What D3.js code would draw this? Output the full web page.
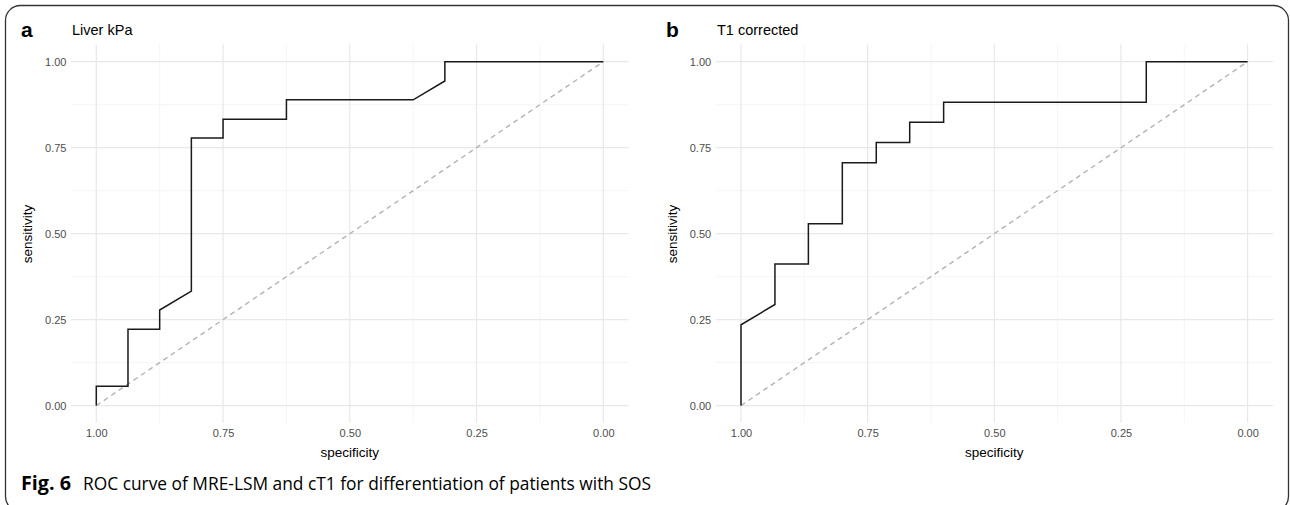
<!DOCTYPE html>
<html>
<head>
<meta charset="utf-8">
<script src="https://cdn.jsdelivr.net/npm/d3@7"></script>
<style>
body{margin:0;background:#fff;}
svg{display:block;}
</style>
</head>
<body>
<svg id="chart" width="1290" height="505"></svg>
<script>
// ROC points (specificity, sensitivity)
var specA = [1, 1, 0.9375, 0.9375, 0.875, 0.875, 0.8125, 0.8125, 0.75, 0.75, 0.625, 0.625, 0.375, 0.3125, 0.3125, 0]
var sensA = [0, 0.056, 0.056, 0.222, 0.222, 0.278, 0.333, 0.778, 0.778, 0.833, 0.833, 0.889, 0.889, 0.944, 1, 1]

var specB = [1, 1, 0.933, 0.933, 0.867, 0.867, 0.8, 0.8, 0.733, 0.733, 0.667, 0.667, 0.6, 0.6, 0.2, 0.2, 0]
var sensB = [0, 0.235, 0.294, 0.412, 0.412, 0.529, 0.529, 0.706, 0.706, 0.765, 0.765, 0.824, 0.824, 0.882, 0.882, 1, 1]

var tickVals = [1, 0.75, 0.5, 0.25, 0]
var minorVals = [0.875, 0.625, 0.375, 0.125]
var panelLetters = ["a", "b"]
var panelTitles = ["Liver kPa", "T1 corrected"]
var xLabel = "specificity"
var yLabel = "sensitivity"
var captionBold = "Fig. 6"
var captionText = "ROC curve of MRE-LSM and cT1 for differentiation of patients with SOS"

var svg = d3.select("#chart")
var font = "'Liberation Sans', Arial, sans-serif"

// figure frame (rounded, cut by the bottom edge)
svg.append("rect")
    .attr("x", 5.5).attr("y", 5.5)
    .attr("width", 1283).attr("height", 506)
    .attr("rx", 15).attr("ry", 15)
    .style("fill", "none")
    .style("stroke", "#333")
    .style("stroke-width", 1.3)

var panels = [
    {x0: 96.3, x1: 603.3, spec: specA, sens: sensA, letterX: 21, titleX: 72, ylabX: 27},
    {x0: 741, x1: 1247.6, spec: specB, sens: sensB, letterX: 666, titleX: 717, ylabX: 672}
]

panels.forEach(function(p, i){
    var pad = 0.05 * (p.x1 - p.x0)
    var x = d3.scaleLinear().domain([1, 0]).range([p.x0, p.x1])
    var y = d3.scaleLinear().domain([0, 1]).range([405.6, 61.7])
    var ypad = 0.05 * (405.6 - 61.7)
    var left = p.x0 - pad, right = p.x1 + pad
    var top = 61.7 - ypad, bottom = 405.6 + ypad

    var g = svg.append("g")

    // minor grid
    g.selectAll("line.minx").data(minorVals).enter().append("line")
        .attr("x1", d => x(d)).attr("x2", d => x(d))
        .attr("y1", top).attr("y2", bottom)
        .style("stroke", "#f0f0f0").style("stroke-width", 0.7)
    g.selectAll("line.miny").data(minorVals).enter().append("line")
        .attr("y1", d => y(d)).attr("y2", d => y(d))
        .attr("x1", left).attr("x2", right)
        .style("stroke", "#f0f0f0").style("stroke-width", 0.7)
    // major grid
    g.selectAll("line.majx").data(tickVals).enter().append("line")
        .attr("x1", d => x(d)).attr("x2", d => x(d))
        .attr("y1", top).attr("y2", bottom)
        .style("stroke", "#e8e8e8").style("stroke-width", 1.2)
    g.selectAll("line.majy").data(tickVals).enter().append("line")
        .attr("y1", d => y(d)).attr("y2", d => y(d))
        .attr("x1", left).attr("x2", right)
        .style("stroke", "#e8e8e8").style("stroke-width", 1.2)

    // axes (labels only, ggplot minimal style)
    var xAxis = d3.axisBottom(x).tickValues(tickVals).tickFormat(d3.format(".2f")).tickSize(0).tickPadding(0)
    var yAxis = d3.axisLeft(y).tickValues(tickVals).tickFormat(d3.format(".2f")).tickSize(0).tickPadding(0)

    var xa = g.append("g").attr("transform", "translate(0," + (bottom + 6) + ")").call(xAxis)
    var ya = g.append("g").attr("transform", "translate(" + (left - 4.5) + ",0)").call(yAxis)
    ;[xa, ya].forEach(function(a){
        a.select(".domain").remove()
        a.attr("font-family", null).attr("font-size", null)
        a.selectAll("text")
            .style("font-family", font)
            .style("font-size", "11px")
            .style("fill", "#4d4d4d")
    })

    // chance diagonal
    g.append("line")
        .attr("x1", x(1)).attr("y1", y(0))
        .attr("x2", x(0)).attr("y2", y(1))
        .style("stroke", "#b3b3b3")
        .style("stroke-width", 1.4)
        .style("stroke-dasharray", "5,4")

    // ROC curve
    var pts = p.spec.map(function(s, k){ return [s, p.sens[k]] })
    var line = d3.line().x(d => x(d[0])).y(d => y(d[1]))
    g.append("path")
        .datum(pts)
        .attr("d", line)
        .style("fill", "none")
        .style("stroke", "#1a1a1a")
        .style("stroke-width", 1.5)

    // labels
    g.append("text")
        .attr("x", (p.x0 + p.x1) / 2).attr("y", 457)
        .style("text-anchor", "middle")
        .style("font-family", font).style("font-size", "13.5px").style("fill", "#000")
        .text(xLabel)
    g.append("text")
        .attr("transform", "translate(" + p.ylabX + ",234) rotate(-90)")
        .attr("dy", "0.35em")
        .style("text-anchor", "middle")
        .style("font-family", font).style("font-size", "13.5px").style("fill", "#000")
        .text(yLabel)
    g.append("text")
        .attr("x", p.letterX).attr("y", 37)
        .style("font-family", font).style("font-size", "21px").style("font-weight", "bold")
        .text(panelLetters[i])
    g.append("text")
        .attr("x", p.titleX).attr("y", 35)
        .style("font-family", font).style("font-size", "14.5px").style("fill", "#000")
        .text(panelTitles[i])
})

// caption
svg.append("text")
    .attr("x", 21).attr("y", 490)
    .attr("textLength", 50).attr("lengthAdjust", "spacingAndGlyphs")
    .style("font-family", "'Open Sans', sans-serif").style("font-size", "19px").style("font-weight", "bold")
    .text(captionBold)
svg.append("text")
    .attr("x", 83).attr("y", 490)
    .attr("textLength", 568).attr("lengthAdjust", "spacingAndGlyphs")
    .style("font-family", "'Open Sans', sans-serif").style("font-size", "19px")
    .text(captionText)
</script>
</body>
</html>
